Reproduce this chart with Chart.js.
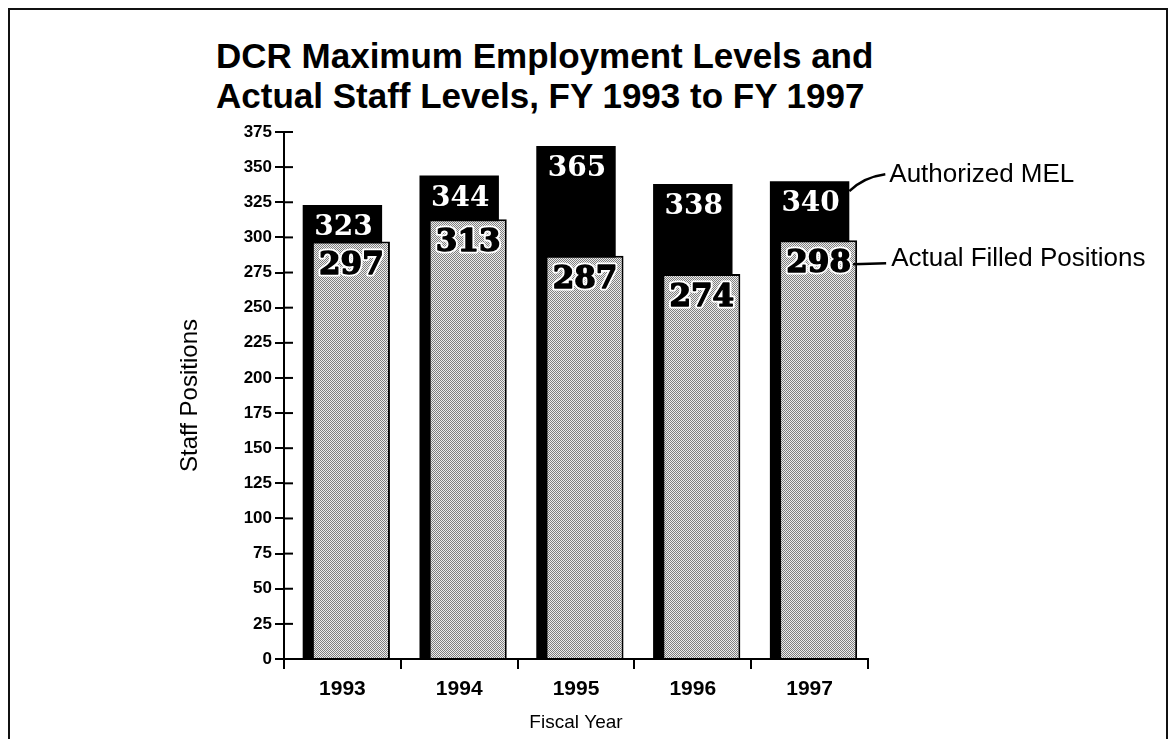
<!DOCTYPE html>
<html>
<head>
<meta charset="utf-8">
<script src="https://cdn.jsdelivr.net/npm/chart.js@4.4.0/dist/chart.umd.min.js"></script>
<style>
html, body { margin: 0; padding: 0; background: #fff; }
body { width: 1176px; height: 739px; position: relative; overflow: hidden; font-family: "Liberation Sans", Arial, sans-serif; }
#moldura { position: absolute; left: 8px; top: 8px; width: 1160px; height: 780px; border: 2px solid #111; box-sizing: border-box; }
#titulo { position: absolute; left: 216px; top: 36px; margin: 0; font-size: 35px; line-height: 40px; font-weight: bold; color: #000; }
#grafico { position: absolute; left: 0; top: 0; }
</style>
</head>
<body>
<div id="moldura"></div>
<h1 id="titulo">DCR Maximum Employment Levels and<br>Actual Staff Levels, FY 1993 to FY 1997</h1>
<canvas id="grafico" width="1176" height="739"></canvas>
<script>
// Dados
const anos = ['1993', '1994', '1995', '1996', '1997'];
const melAutorizado = [323, 344, 365, 338, 340];
const posicoesPreenchidas = [297, 313, 287, 274, 298];
const eixoYMax = 375;
const eixoYPasso = 25;

// Padrao pontilhado das barras cinzas
function criarPontilhado() {
    const c = document.createElement('canvas');
    c.width = 2;
    c.height = 2;
    const g = c.getContext('2d');
    g.fillStyle = '#ededed';
    g.fillRect(0, 0, 2, 2);
    g.fillStyle = '#7f7f7f';
    g.fillRect(0, 0, 1, 1);
    g.fillRect(1, 1, 1, 1);
    return g.createPattern(c, 'repeat');
}

// Desloca as barras cinzas um pouco para a direita
const deslocaCinza = {
    id: 'deslocaCinza',
    afterDatasetsUpdate(chart) {
        chart.getDatasetMeta(1).data.forEach(bar => { bar.x += 9; });
    }
};

// Marcas do eixo Y que cruzam a linha
const marcasInternas = {
    id: 'marcasInternas',
    beforeDatasetsDraw(chart) {
        const { ctx, scales: { y } } = chart;
        ctx.save();
        ctx.strokeStyle = '#000';
        ctx.lineWidth = 2;
        y.ticks.forEach((t, i) => {
            const py = y.getPixelForTick(i);
            ctx.beginPath();
            ctx.moveTo(y.right, py);
            ctx.lineTo(y.right + 9, py);
            ctx.stroke();
        });
        ctx.restore();
    }
};

// Valores em cima das barras
const rotulosValores = {
    id: 'rotulosValores',
    afterDatasetsDraw(chart) {
        const ctx = chart.ctx;
        ctx.save();
        ctx.textAlign = 'center';
        ctx.textBaseline = 'middle';

        ctx.font = 'bold 28px "DejaVu Serif"';
        ctx.fillStyle = '#fff';
        chart.getDatasetMeta(0).data.forEach((bar, i) => {
            ctx.fillText(String(melAutorizado[i]), bar.x + 1, bar.y + 23);
        });

        ctx.font = 'bold 31px "DejaVu Serif"';
        ctx.lineJoin = 'round';
        chart.getDatasetMeta(1).data.forEach((bar, i) => {
            const txt = String(posicoesPreenchidas[i]);
            ctx.strokeStyle = '#fff';
            ctx.lineWidth = 5;
            ctx.strokeText(txt, bar.x, bar.y + 24);
            ctx.fillStyle = '#000';
            ctx.fillText(txt, bar.x, bar.y + 24);
            ctx.strokeStyle = '#000';
            ctx.lineWidth = 1.4;
            ctx.strokeText(txt, bar.x, bar.y + 24);
        });

        // Legendas com linhas de chamada
        const b = chart.getDatasetMeta(0).data[anos.length - 1];
        const g = chart.getDatasetMeta(1).data[anos.length - 1];
        const bx = b.x + b.width / 2;
        const gx = g.x + g.width / 2;

        ctx.strokeStyle = '#000';
        ctx.lineWidth = 2.5;
        ctx.beginPath();
        ctx.moveTo(bx, b.y + 10);
        ctx.quadraticCurveTo(bx + 14, b.y - 4, bx + 36, b.y - 7);
        ctx.stroke();

        ctx.beginPath();
        ctx.moveTo(gx - 4, g.y + 24);
        ctx.lineTo(gx + 29, g.y + 23);
        ctx.stroke();

        ctx.textAlign = 'left';
        ctx.fillStyle = '#000';
        ctx.font = '26px "Liberation Sans", Arial, sans-serif';
        ctx.fillText('Authorized MEL', bx + 40, b.y - 6);
        ctx.fillText('Actual Filled Positions', gx + 34, g.y + 19);
        ctx.restore();
    }
};

const ctx = document.getElementById('grafico');

new Chart(ctx, {
    type: 'bar',
    data: {
        labels: anos,
        datasets: [
            {
                label: 'Authorized MEL',
                data: melAutorizado,
                backgroundColor: '#000',
                borderWidth: 0,
                categoryPercentage: 1,
                barPercentage: 0.68,
                grouped: false,
                order: 1
            },
            {
                label: 'Actual Filled Positions',
                data: posicoesPreenchidas,
                backgroundColor: criarPontilhado(),
                borderColor: '#000',
                borderWidth: { top: 2, right: 2, left: 1, bottom: 0 },
                borderSkipped: false,
                categoryPercentage: 1,
                barPercentage: 0.66,
                grouped: false,
                order: 0
            }
        ]
    },
    options: {
        responsive: false,
        animation: false,
        layout: { padding: { left: 172, right: 308, top: 132, bottom: 0 } },
        plugins: {
            legend: { display: false },
            tooltip: { enabled: false }
        },
        scales: {
            x: {
                afterFit(scale) { scale.height = 80; },
                border: { color: '#000', width: 2 },
                grid: { drawOnChartArea: false, color: '#000', lineWidth: 2, tickLength: 10, offset: true },
                ticks: { color: '#000', padding: 8, font: { family: '"Liberation Sans", Arial', size: 21, weight: 'bold' } },
                title: {
                    display: true,
                    text: 'Fiscal Year',
                    color: '#000',
                    font: { family: '"Liberation Sans", Arial', size: 19 },
                    padding: { top: 0, bottom: 5 }
                }
            },
            y: {
                min: 0,
                max: eixoYMax,
                afterFit(scale) { scale.width = 112; },
                border: { color: '#000', width: 2 },
                grid: { drawOnChartArea: false, color: '#000', lineWidth: 2, tickLength: 9 },
                ticks: {
                    stepSize: eixoYPasso,
                    color: '#000',
                    padding: 3,
                    font: { family: '"Liberation Sans", Arial', size: 17, weight: 'bold' }
                },
                title: {
                    display: true,
                    text: 'Staff Positions',
                    color: '#000',
                    font: { family: '"Liberation Sans", Arial', size: 24 },
                    padding: { top: 4, bottom: 0 }
                }
            }
        }
    },
    plugins: [deslocaCinza, marcasInternas, rotulosValores]
});
</script>
</body>
</html>
